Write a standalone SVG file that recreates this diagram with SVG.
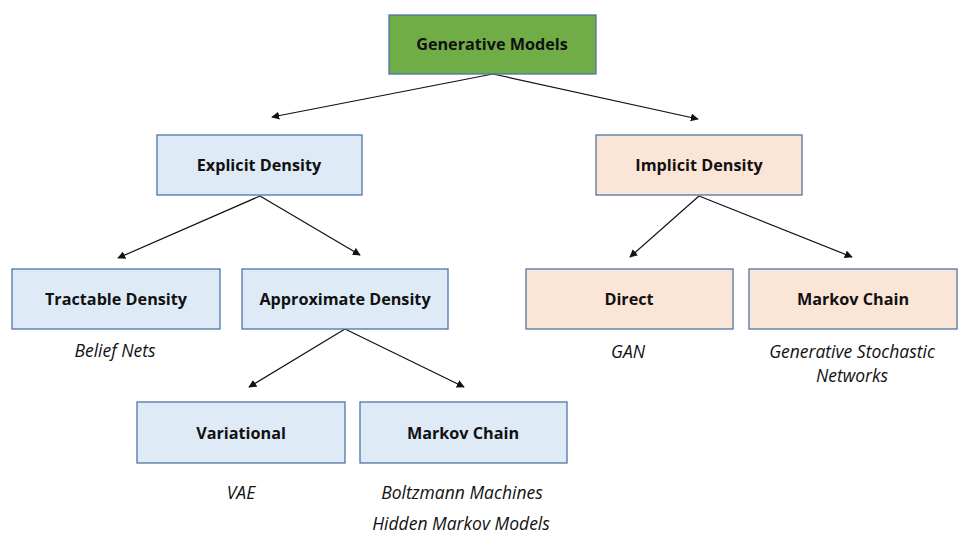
<svg xmlns="http://www.w3.org/2000/svg" width="969" height="547" viewBox="0 0 969 547">
<style>
.box{stroke:#4f73a8;stroke-width:1.3}
.g{fill:#70ad47}
.b{fill:#deebf7}
.p{fill:#fbe5d6}
.t{font-family:"Open Sans","Noto Sans",sans-serif;font-weight:bold;font-size:16.2px;fill:#111;text-anchor:middle;dominant-baseline:central}
.i{font-family:"Open Sans","Noto Sans",sans-serif;font-style:italic;font-size:17.5px;fill:#111;text-anchor:middle}
.c line{stroke:#111;stroke-width:1.2;marker-end:url(#ah)}
</style>
<defs>
<marker id="ah" viewBox="0 0 10 10" refX="9" refY="5" markerWidth="8" markerHeight="8" markerUnits="userSpaceOnUse" orient="auto">
<path d="M0,0 L10,5 L0,10 z" fill="#111"/>
</marker>
</defs>
<rect width="969" height="547" fill="#fff"/>
<g class="c">
<line x1="493" y1="74" x2="272" y2="117"/>
<line x1="493" y1="74" x2="698" y2="119"/>
<line x1="260" y1="196" x2="118" y2="258"/>
<line x1="260" y1="196" x2="360" y2="255"/>
<line x1="345" y1="329" x2="249" y2="387"/>
<line x1="345" y1="329" x2="464" y2="387"/>
<line x1="699" y1="196" x2="630" y2="257"/>
<line x1="699" y1="196" x2="852" y2="257"/>
</g>
<g id="generative-models"><rect class="box g" x="389" y="15" width="207" height="59"/><text class="t" x="492" y="44">Generative Models</text></g>
<g id="explicit-density"><rect class="box b" x="157" y="135" width="205" height="60"/><text class="t" x="259" y="165">Explicit Density</text></g>
<g id="implicit-density"><rect class="box p" x="596" y="135" width="206" height="60"/><text class="t" x="699" y="165">Implicit Density</text></g>
<g id="tractable-density"><rect class="box b" x="12" y="269" width="208" height="60"/><text class="t" x="116" y="299">Tractable Density</text><text class="i" x="115" y="357">Belief Nets</text></g>
<g id="approximate-density"><rect class="box b" x="242" y="269" width="206" height="60"/><text class="t" x="345" y="299">Approximate Density</text></g>
<g id="direct"><rect class="box p" x="526" y="269" width="207" height="60"/><text class="t" x="629" y="299">Direct</text><text class="i" x="628" y="358">GAN</text></g>
<g id="markov-chain-implicit"><rect class="box p" x="749" y="269" width="208" height="60"/><text class="t" x="853" y="299">Markov Chain</text><text class="i" x="852" y="358">Generative Stochastic</text><text class="i" x="852" y="382">Networks</text></g>
<g id="variational"><rect class="box b" x="137" y="402" width="208" height="61"/><text class="t" x="241" y="433">Variational</text><text class="i" x="241" y="499">VAE</text></g>
<g id="markov-chain-approx"><rect class="box b" x="360" y="402" width="207" height="61"/><text class="t" x="463" y="433">Markov Chain</text><text class="i" x="462" y="499">Boltzmann Machines</text><text class="i" x="461" y="530">Hidden Markov Models</text></g>
</svg>
